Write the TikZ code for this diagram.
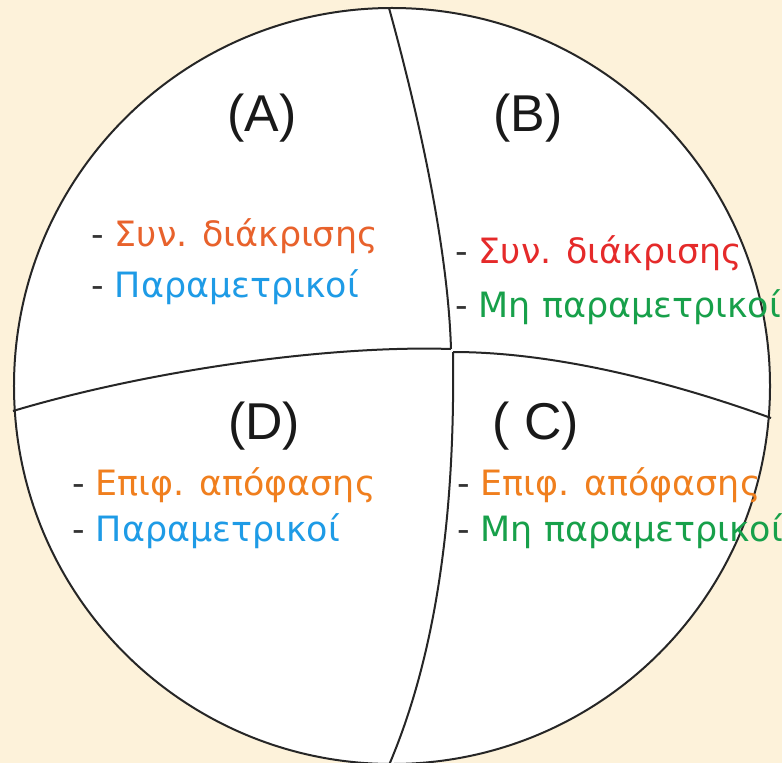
\documentclass[tikz,border=0pt]{standalone}
\usepackage{fontspec}
\setmainfont{DejaVu Sans}
\newfontfamily\quadfont{Liberation Sans}
\usetikzlibrary{positioning}
\definecolor{paper}{HTML}{FDF2DA}
\definecolor{synred}{HTML}{E8622C}
\definecolor{synrose}{HTML}{E52A2A}
\definecolor{epiforange}{HTML}{F07F1E}
\definecolor{parblue}{HTML}{1E9BE6}
\definecolor{npgreen}{HTML}{17A04A}
\tikzset{
  quadlab/.style={font=\quadfont\fontsize{52}{60}\selectfont, inner sep=0pt, text=black!90},
  itemtx/.style={font=\fontsize{35}{40}\selectfont, anchor=base west, inner sep=0pt, text=black!80},
  divider/.style={line width=2bp, draw=black!85},
}

\begin{document}
\begin{tikzpicture}[x=1bp, y=-1bp]
    % page
    \useasboundingbox (0,0) rectangle (782,763);
    \fill[paper] (0,0) rectangle (782,763);
    \clip (0,0) rectangle (782,763);
    % disc and the two dividing arcs
    \draw[divider, fill=white] (392,386) circle[radius=378bp];
    \coordinate (top) at (389,8);
    \coordinate (bot) at (386,772);
    \coordinate (west) at (13,411);
    \coordinate (east) at (771,418);
    \coordinate (mid) at (451,349);
    \coordinate (midlow) at (453,352);
    \draw[divider] (top) .. controls (420,120) and (448,250) .. (mid);
    \draw[divider] (midlow) .. controls (455,500) and (440,650) .. (bot);
    \draw[divider] (west) .. controls (150,370) and (330,345) .. (mid);
    \draw[divider] (midlow) .. controls (560,352) and (680,385) .. (east);
    % quadrant letters
    \node[quadlab] (qa) at (262,118) {(A)};
    \node[quadlab] (qb) at (528,118) {(B)};
    \node[quadlab] (qd) at (264,426) {(D)};
    \node[quadlab] (qc) at (536,426) {( C)};
    % A
    \node[itemtx] (a1) at (91,246) {- \textcolor{synred}{Συν. διάκρισης}};
    \node[itemtx] (a2) at (91,297) {- \textcolor{parblue}{Παραμετρικοί}};
    % B
    \node[itemtx] (b1) at (455,263) {- \textcolor{synrose}{Συν. διάκρισης}};
    \node[itemtx] (b2) at (455,317) {- \textcolor{npgreen}{Μη παραμετρικοί}};
    % D
    \node[itemtx] (d1) at (72,495) {- \textcolor{epiforange}{Επιφ. απόφασης}};
    \node[itemtx] (d2) at (72,541) {- \textcolor{parblue}{Παραμετρικοί}};
    % C
    \node[itemtx] (c1) at (457,495) {- \textcolor{epiforange}{Επιφ. απόφασης}};
    \node[itemtx] (c2) at (457,541) {- \textcolor{npgreen}{Μη παραμετρικοί}};
\end{tikzpicture}
\end{document}
